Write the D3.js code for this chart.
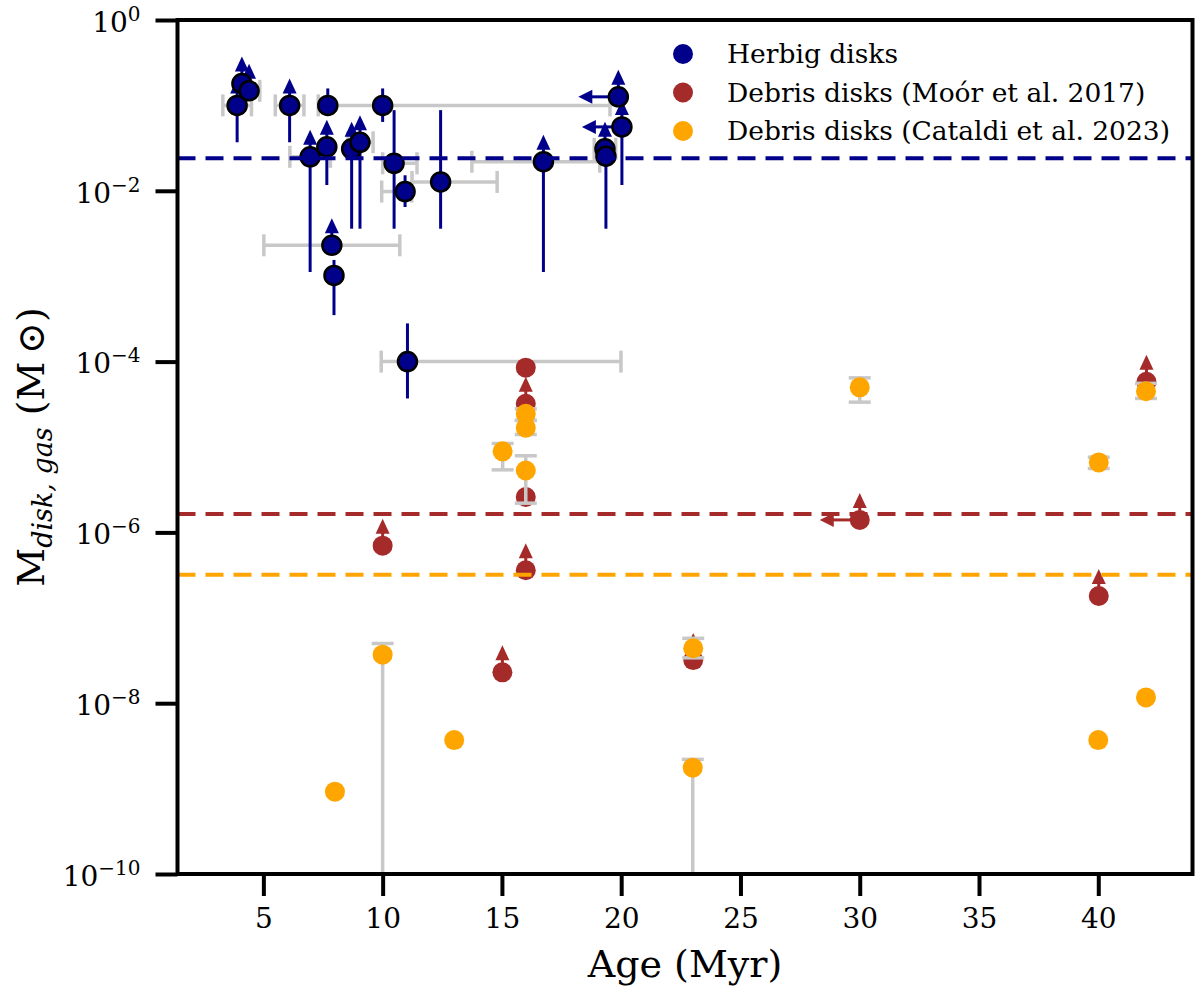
<!DOCTYPE html>
<html>
<head>
<meta charset="utf-8">
<script src="https://cdn.jsdelivr.net/npm/d3@7"></script>
<style>
  body { margin: 0; background: #fff; }
  text { font-family: "DejaVu Serif", serif; }
</style>
</head>
<body>
<svg width="1200" height="992"></svg>
<script>
// Herbig disks: age (Myr), gas mass (Msun), errors
var herbigAge    = [3.9, 4.1, 4.4, 6.1, 7.7, 10.0, 6.96, 7.66, 8.7, 9.05, 10.48, 10.94, 12.43, 7.87, 7.96, 16.74, 19.88, 20.03, 19.32, 19.36, 11.04];
var herbigMass   = [0.1, 0.18, 0.148, 0.1, 0.1, 0.1, 0.025, 0.0327, 0.031, 0.037, 0.021, 0.0098, 0.0127, 0.0023, 0.00102, 0.0219, 0.126, 0.056, 0.031, 0.0254, 1.0e-4];
var herbigMassLo = [0.037, null, null, 0.037, 0.079, 0.064, 1.12e-3, 0.0117, 3.6e-3, 3.6e-3, 3.6e-3, 6.46e-3, 3.6e-3, null, 3.5e-4, 1.12e-3, null, 0.0117, null, 3.6e-3, 3.7e-5];
var herbigMassHi = [null, null, null, null, 0.158, 0.158, null, null, null, null, 0.088, 0.0152, 0.088, null, 1.55e-3, null, null, null, null, null, 2.8e-4];
var herbigAgeLo  = [0.6, 0, 0.45, 0.6, 0, 2.7, 0.85, 0, 0, 0.5, 0.48, 0.98, 1.2, 2.85, 0, 3.0, 0, 0, 0.45, 0, 1.1];
var herbigAgeHi  = [0.6, 0, 0.45, 0.6, 0, 9.53, 0.85, 0, 0, 0.55, 0.96, 0.28, 2.37, 2.85, 0, 2.36, 0, 0, 0.45, 0, 8.95];
var herbigLowLim = [1, 1, 1, 1, 0, 0, 1, 1, 1, 1, 0, 0, 0, 1, 0, 1, 1, 1, 1, 0, 0];
var herbigAgeLim = [0, 0, 0, 0, 0, 0, 0, 0, 0, 0, 0, 0, 0, 0, 0, 0, 1, 1, 0, 0, 0];

// Debris disks (Moor et al. 2017)
var moorAge    = [16, 16, 16, 10, 16, 15.02, 23.02, 30.0, 40.02, 42.02];
var moorMass   = [8.5e-5, 3.2e-5, 2.6e-6, 7e-7, 3.6e-7, 2.3e-8, 3.2e-8, 1.4e-6, 1.8e-7, 5.8e-5];
var moorLowLim = [0, 1, 0, 1, 1, 1, 1, 1, 1, 1];
var moorAgeLim = [0, 0, 0, 0, 0, 0, 0, 1, 0, 0];

// Debris disks (Cataldi et al. 2023); 0 = error bar reaching zero
var cataldiAge    = [16, 16, 15.03, 16, 10, 8, 13, 23.02, 23, 30, 40.02, 42, 42, 40];
var cataldiMass   = [2.45e-5, 1.68e-5, 8.9e-6, 5.3e-6, 3.7e-8, 9.2e-10, 3.7e-9, 4.4e-8, 1.76e-9, 5e-5, 6.6e-6, 4.5e-5, 1.17e-8, 3.7e-9];
var cataldiMassLo = [2.05e-5, 1.4e-5, 5.4e-6, 2.2e-6, 0, null, null, 3.4e-8, 0, 3.35e-5, 5.6e-6, 3.7e-5, null, null];
var cataldiMassHi = [2.8e-5, 2.05e-5, 1.1e-5, 7.9e-6, 5.0e-8, null, null, 5.75e-8, 2.2e-9, 6.45e-5, 7.6e-6, 5.56e-5, null, null];

// median levels (dashed)
var medianLevels = [2.4e-2, 1.64e-6, 3.2e-7];
var medianColors = ["#00008b", "#a52a2a", "#ffa500"];

var legendLabels = ["Herbig disks", "Debris disks (Moór et al. 2017)", "Debris disks (Cataldi et al. 2023)"];
var xTicks = [5, 10, 15, 20, 25, 30, 35, 40];
var yTicks = [1, 1e-2, 1e-4, 1e-6, 1e-8, 1e-10];
var yTickExp = ["0", "\u22122", "\u22124", "\u22126", "\u22128", "\u221210"];

var svg = d3.select("svg");
var width = +svg.attr("width"), height = +svg.attr("height");
svg.append("rect").attr("width", width).attr("height", height).attr("fill", "#fff");

var x = d3.scaleLinear().domain([1.4, 43.95]).range([177.5, 1192.5]);
var y = d3.scaleLog().domain([1e-10, 1]).range([874, 20]);
var gray = "#c8c8c8";
var ymin = y.domain()[0];

function yv(v) { return y(v > 0 ? v : ymin); }

var plot = svg.append("g");

// --- Herbig x errors (gray, capped)
herbigAge.forEach(function(a, i) {
  if (!herbigAgeLo[i] && !herbigAgeHi[i]) return;
  var cy = y(herbigMass[i]), x0 = x(a - herbigAgeLo[i]), x1 = x(a + herbigAgeHi[i]);
  plot.append("line").attr("x1", x0).attr("x2", x1).attr("y1", cy).attr("y2", cy)
    .attr("stroke", gray).attr("stroke-width", 3.5);
  [x0, x1].forEach(function(xx) {
    plot.append("line").attr("x1", xx).attr("x2", xx).attr("y1", cy - 11).attr("y2", cy + 11)
      .attr("stroke", gray).attr("stroke-width", 3.5);
  });
});

// --- Herbig y errors (blue)
herbigAge.forEach(function(a, i) {
  var lo = herbigMassLo[i] != null ? herbigMassLo[i] : herbigMass[i];
  var hi = herbigMassHi[i] != null ? herbigMassHi[i] : herbigMass[i];
  if (lo === hi) return;
  plot.append("line").attr("x1", x(a)).attr("x2", x(a)).attr("y1", y(hi)).attr("y2", y(lo))
    .attr("stroke", "#00008b").attr("stroke-width", 3);
});

function upArrow(g, cx, cy, col) {
  g.append("line").attr("x1", cx).attr("x2", cx).attr("y1", cy).attr("y2", cy - 14)
    .attr("stroke", col).attr("stroke-width", 3);
  g.append("path").attr("d", "M" + (cx - 7) + "," + (cy - 12) + "L" + (cx + 7) + "," + (cy - 12) + "L" + cx + "," + (cy - 27) + "Z")
    .attr("fill", col);
}
function leftArrow(g, cx, cy, col) {
  g.append("line").attr("x1", cx).attr("x2", cx - 28).attr("y1", cy).attr("y2", cy)
    .attr("stroke", col).attr("stroke-width", 3);
  g.append("path").attr("d", "M" + (cx - 26) + "," + (cy - 7) + "L" + (cx - 26) + "," + (cy + 7) + "L" + (cx - 40) + "," + cy + "Z")
    .attr("fill", col);
}

herbigAge.forEach(function(a, i) {
  if (herbigLowLim[i]) upArrow(plot, x(a), y(herbigMass[i]), "#00008b");
  if (herbigAgeLim[i]) leftArrow(plot, x(a), y(herbigMass[i]), "#00008b");
});

plot.selectAll("circle.herbig").data(herbigAge).enter().append("circle")
  .attr("class", "herbig")
  .attr("cx", function(d) { return x(d); })
  .attr("cy", function(d, i) { return y(herbigMass[i]); })
  .attr("r", 9.5)
  .attr("fill", "#00008b").attr("stroke", "#000").attr("stroke-width", 2.5);

// --- Moor
moorAge.forEach(function(a, i) {
  if (moorLowLim[i]) upArrow(plot, x(a), y(moorMass[i]), "#a52a2a");
  if (moorAgeLim[i]) leftArrow(plot, x(a), y(moorMass[i]), "#a52a2a");
});
plot.selectAll("circle.moor").data(moorAge).enter().append("circle")
  .attr("class", "moor")
  .attr("cx", function(d) { return x(d); })
  .attr("cy", function(d, i) { return y(moorMass[i]); })
  .attr("r", 10).attr("fill", "#a52a2a");

// --- Cataldi (gray y errors)
cataldiAge.forEach(function(a, i) {
  if (cataldiMassLo[i] == null) return;
  var cx = x(a), y0 = yv(cataldiMassLo[i]), y1 = yv(cataldiMassHi[i]);
  plot.append("line").attr("x1", cx).attr("x2", cx).attr("y1", y0).attr("y2", y1)
    .attr("stroke", gray).attr("stroke-width", 3.5);
  [cataldiMassLo[i], cataldiMassHi[i]].forEach(function(v) {
    if (!(v > 0)) return;
    plot.append("line").attr("x1", cx - 11).attr("x2", cx + 11).attr("y1", y(v)).attr("y2", y(v))
      .attr("stroke", gray).attr("stroke-width", 3.5);
  });
});
plot.selectAll("circle.cataldi").data(cataldiAge).enter().append("circle")
  .attr("class", "cataldi")
  .attr("cx", function(d) { return x(d); })
  .attr("cy", function(d, i) { return y(cataldiMass[i]); })
  .attr("r", 10).attr("fill", "#ffa500");

// --- dashed median levels
plot.selectAll("line.median").data(medianLevels).enter().append("line")
  .attr("class", "median")
  .attr("x1", x.range()[0]).attr("x2", x.range()[1])
  .attr("y1", function(d) { return y(d); }).attr("y2", function(d) { return y(d); })
  .attr("stroke", function(d, i) { return medianColors[i]; })
  .attr("stroke-width", 4).attr("stroke-dasharray", "18,10");

// --- axes
var xAxis = svg.append("g").attr("transform", "translate(0," + y.range()[0] + ")")
  .call(d3.axisBottom(x).tickValues(xTicks).tickSize(22).tickPadding(12).tickFormat(d3.format("d")));
var yAxis = svg.append("g").attr("transform", "translate(" + x.range()[0] + ",0)")
  .call(d3.axisLeft(y).tickValues(yTicks).tickSize(22).tickPadding(15).tickFormat(""));

[xAxis, yAxis].forEach(function(g) {
  g.select(".domain").remove();
  g.selectAll(".tick line").attr("stroke", "#000").attr("stroke-width", 4);
  g.selectAll(".tick text").attr("fill", "#000").style("font-family", "DejaVu Serif").attr("font-size", 28);
});

yAxis.selectAll(".tick text").each(function(d, i) {
  var t = d3.select(this).attr("dy", "0.4em");
  t.append("tspan").text("10");
  t.append("tspan").attr("font-size", 20).attr("dy", -11).text(yTickExp[i]);
});

// frame
svg.append("rect")
  .attr("x", x.range()[0]).attr("y", y.range()[1])
  .attr("width", x.range()[1] - x.range()[0]).attr("height", y.range()[0] - y.range()[1])
  .attr("fill", "none").attr("stroke", "#000").attr("stroke-width", 4);

// axis labels
svg.append("text").attr("x", (x.range()[0] + x.range()[1]) / 2).attr("y", 977)
  .attr("text-anchor", "middle").attr("font-size", 38).text("Age (Myr)");

var yl = svg.append("text").attr("transform", "translate(44," + ((y.range()[0] + y.range()[1]) / 2) + ") rotate(-90)")
  .attr("text-anchor", "middle").attr("font-size", 38);
yl.append("tspan").text("M");
yl.append("tspan").attr("font-size", 27).attr("font-style", "italic").attr("dy", 8).text("disk, gas");
yl.append("tspan").attr("dy", -8).text(" (M\u2009\u2299)");

// legend
var leg = svg.append("g");
legendLabels.forEach(function(lbl, i) {
  var ly = 54 + i * 38.5;
  leg.append("circle").attr("cx", 683).attr("cy", ly).attr("r", 10).attr("fill", medianColors[i]);
  leg.append("text").attr("x", 727).attr("y", ly + 9).attr("font-size", 26.5).text(lbl);
});
</script>
</body>
</html>
